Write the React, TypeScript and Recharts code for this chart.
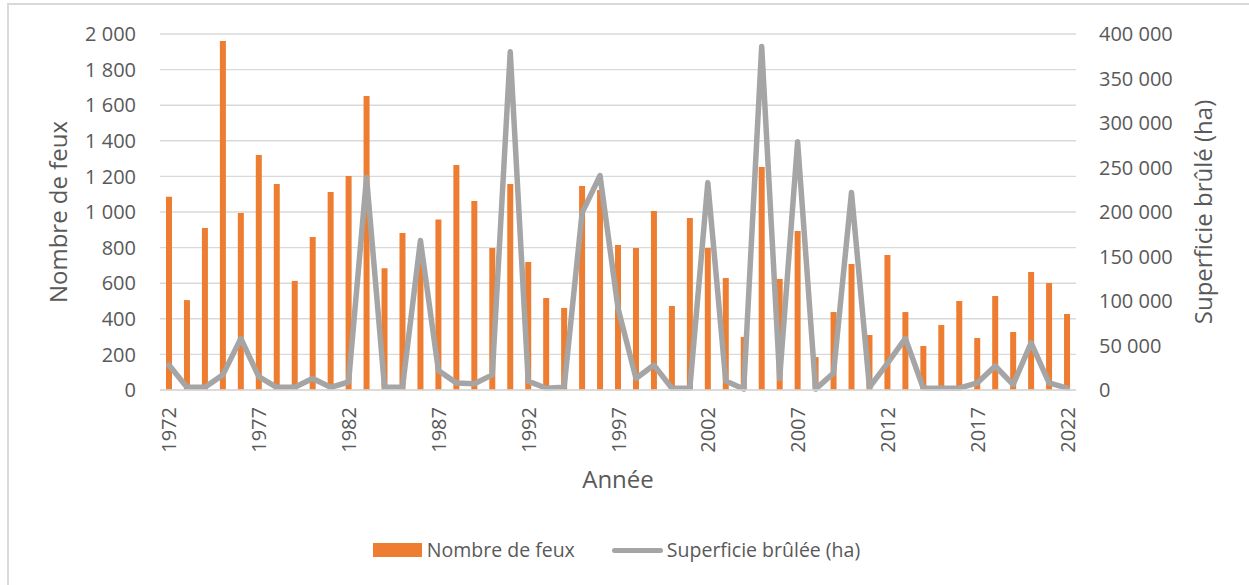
import React from 'react';
import { ComposedChart, Bar, Line, XAxis, YAxis, CartesianGrid, Legend } from 'recharts';

const years = [1972,1973,1974,1975,1976,1977,1978,1979,1980,1981,1982,1983,1984,1985,1986,1987,1988,1989,1990,1991,1992,1993,1994,1995,1996,1997,1998,1999,2000,2001,2002,2003,2004,2005,2006,2007,2008,2009,2010,2011,2012,2013,2014,2015,2016,2017,2018,2019,2020,2021,2022];

const fires = [1085,505,910,1960,995,1320,1158,613,860,1112,1202,1652,684,882,750,958,1264,1062,798,1157,719,517,461,1146,1124,815,798,1006,472,966,798,629,298,1253,624,893,185,438,708,309,758,438,247,365,500,292,528,326,663,601,427];

const burned = [28000,3000,3000,17000,58000,15000,3000,3000,13000,3000,9000,239000,3000,3000,168000,22000,8000,7000,17000,380000,10000,2000,3000,199000,241000,92000,13000,28000,2000,2000,233000,10000,1000,386000,13000,279000,1000,19000,222000,3000,30000,58000,2000,2000,2000,8000,27000,6000,53000,8000,2000];

const leftTicks = [0,200,400,600,800,1000,1200,1400,1600,1800,2000];
const rightTicks = [0,50000,100000,150000,200000,250000,300000,350000,400000];

const seriesNames = { fires: 'Nombre de feux', burned: 'Superficie brûlée (ha)' };
const axisTitles = { x: 'Année', left: 'Nombre de feux', right: 'Superficie brûlé (ha)' };

const data = years.map((y, i) => ({ year: y, fires: fires[i], burned: burned[i] }));

const FONT = '"Open Sans", sans-serif';
const TXT = '#595959';
const ORANGE = '#ed7d31';
const GRAY = '#a5a5a5';

const fmt = (v: number) => String(v).replace(/\B(?=(\d{3})+(?!\d))/g, ' ');

const XTick = (props: any) => {
  const { x, y, payload } = props;
  return (
    <text
      x={x}
      y={y}
      transform={`rotate(-90, ${x}, ${y})`}
      textAnchor="end"
      dominantBaseline="central"
      fill={TXT}
      fontSize={20}
      fontFamily={FONT}
    >
      {payload.value}
    </text>
  );
};

const LegendContent = () => (
  <div
    style={{
      display: 'flex',
      justifyContent: 'center',
      alignItems: 'center',
      paddingRight: 16,
      fontFamily: FONT,
      fontSize: 19.5,
      color: TXT,
      lineHeight: '24px',
    }}
  >
    <div style={{ display: 'flex', alignItems: 'center', marginRight: 37 }}>
      <span style={{ display: 'inline-block', width: 49, height: 14, background: ORANGE, marginRight: 5 }} />
      <span>{seriesNames.fires}</span>
    </div>
    <div style={{ display: 'flex', alignItems: 'center' }}>
      <span style={{ display: 'inline-block', width: 51, height: 5, borderRadius: 3, background: GRAY, marginRight: 4 }} />
      <span>{seriesNames.burned}</span>
    </div>
  </div>
);

export default function App() {
  return (
    <div style={{ position: 'absolute', left: 0, top: 0, width: 1249, height: 585, overflow: 'hidden', background: '#fff' }}>
      <div
        style={{
          position: 'absolute',
          left: 7,
          top: 3,
          width: 1300,
          height: 700,
          border: '2px solid #d9d9d9',
          boxSizing: 'border-box',
        }}
      />
      <div style={{ position: 'absolute', left: 0, top: 0 }}>
        <ComposedChart width={1249} height={585} data={data} margin={{ top: 34, right: 0, bottom: 0, left: 0 }}>
          <CartesianGrid vertical={false} stroke="#d9d9d9" strokeWidth={1.4} yAxisId="left" />
          <XAxis
            dataKey="year"
            height={195}
            interval={4}
            tick={<XTick />}
            tickLine={false}
            tickSize={6}
            tickMargin={11}
            axisLine={{ stroke: '#d9d9d9', strokeWidth: 1.4 }}
            label={{ value: axisTitles.x, position: 'center', dy: -8, fill: TXT, fontSize: 24, fontFamily: FONT }}
          />
          <YAxis
            yAxisId="left"
            orientation="left"
            width={160}
            domain={[0, 2000]}
            ticks={leftTicks}
            tickFormatter={fmt}
            axisLine={false}
            tickLine={false}
            tickSize={6}
            tickMargin={18}
            tick={{ fill: TXT, fontSize: 20, fontFamily: FONT }}
            label={{ value: axisTitles.left, angle: -90, position: 'center', dx: -22, fill: TXT, fontSize: 24, fontFamily: FONT }}
          />
          <YAxis
            yAxisId="right"
            orientation="right"
            width={173}
            domain={[0, 400000]}
            ticks={rightTicks}
            tickFormatter={fmt}
            axisLine={false}
            tickLine={false}
            tickSize={6}
            tickMargin={17}
            tick={{ fill: TXT, fontSize: 20, fontFamily: FONT, textAnchor: 'start' }}
            label={{ value: axisTitles.right, angle: -90, position: 'center', dx: 41, fill: TXT, fontSize: 24, fontFamily: FONT }}
          />
          <Legend
            layout="horizontal"
            verticalAlign="middle"
            align="center"
            content={<LegendContent />}
            wrapperStyle={{ position: 'absolute', left: 0, top: 538, width: 1249 }}
          />
          <Bar yAxisId="left" dataKey="fires" name={seriesNames.fires} fill={ORANGE} barSize={6} isAnimationActive={false} />
          <Line
            yAxisId="right"
            type="linear"
            dataKey="burned"
            name={seriesNames.burned}
            stroke={GRAY}
            strokeWidth={5.5}
            strokeLinejoin="round"
            strokeLinecap="round"
            dot={false}
            activeDot={false}
            isAnimationActive={false}
          />
        </ComposedChart>
      </div>
    </div>
  );
}
